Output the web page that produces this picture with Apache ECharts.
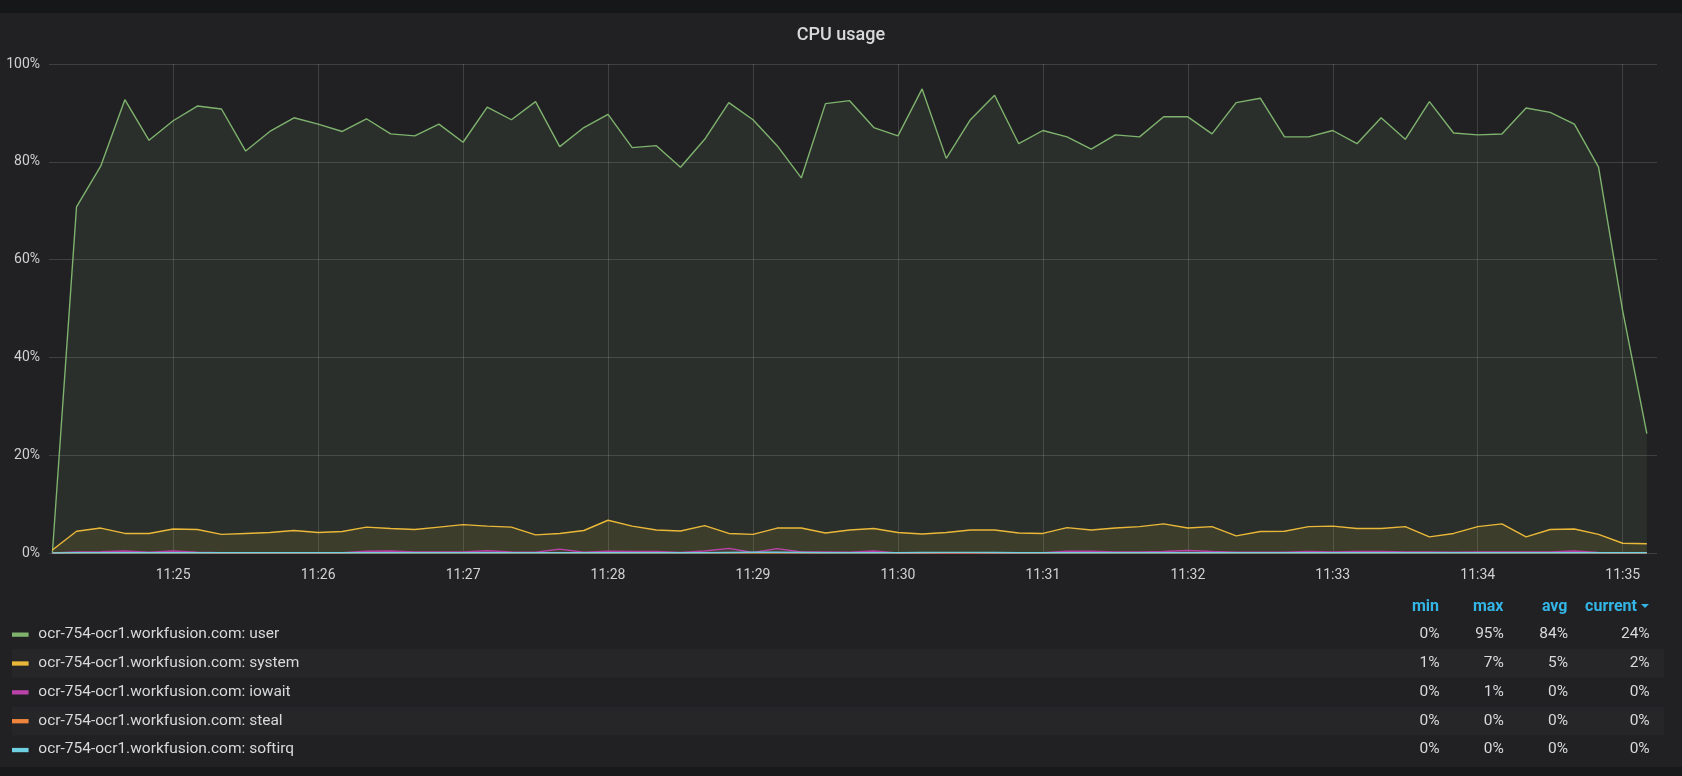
<!DOCTYPE html>
<html><head><meta charset="utf-8">
<script src="https://cdn.jsdelivr.net/npm/echarts@6/dist/echarts.min.js"></script>
<style>html,body{margin:0;padding:0;background:#212124;overflow:hidden;} #c{width:1682px;height:776px;}</style>
</head><body><div id="c"></div><script>
const times = [
 '11:24:10','11:24:20','11:24:30','11:24:40','11:24:50',
 '11:25:00','11:25:10','11:25:20','11:25:30','11:25:40','11:25:50',
 '11:26:00','11:26:10','11:26:20','11:26:30','11:26:40','11:26:50',
 '11:27:00','11:27:10','11:27:20','11:27:30','11:27:40','11:27:50',
 '11:28:00','11:28:10','11:28:20','11:28:30','11:28:40','11:28:50',
 '11:29:00','11:29:10','11:29:20','11:29:30','11:29:40','11:29:50',
 '11:30:00','11:30:10','11:30:20','11:30:30','11:30:40','11:30:50',
 '11:31:00','11:31:10','11:31:20','11:31:30','11:31:40','11:31:50',
 '11:32:00','11:32:10','11:32:20','11:32:30','11:32:40','11:32:50',
 '11:33:00','11:33:10','11:33:20','11:33:30','11:33:40','11:33:50',
 '11:34:00','11:34:10','11:34:20','11:34:30','11:34:40','11:34:50',
 '11:35:00','11:35:10'
];
const tickLabels = ['11:25','11:26','11:27','11:28','11:29','11:30','11:31','11:32','11:33','11:34','11:35'];
const seriesNames = [
 'ocr-754-ocr1.workfusion.com: user',
 'ocr-754-ocr1.workfusion.com: system',
 'ocr-754-ocr1.workfusion.com: iowait',
 'ocr-754-ocr1.workfusion.com: steal',
 'ocr-754-ocr1.workfusion.com: softirq'
];
const seriesColors = ['#7EB26D','#EAB839','#BA43A9','#EF843C','#6ED0E0'];
const statHeaders = ['min','max','avg','current'];

const userValues = [
 0, 70.8, 79.1, 92.7, 84.4,
 88.4, 91.4, 90.8, 82.2, 86.2, 89.0,
 87.7, 86.2, 88.8, 85.7, 85.3, 87.7,
 84.0, 91.2, 88.6, 92.3, 83.1, 87.0,
 89.7, 82.9, 83.3, 78.9, 84.6, 92.1,
 88.6, 83.3, 76.7, 91.9, 92.5, 87.0,
 85.3, 94.9, 80.7, 88.6, 93.6, 83.7,
 86.4, 85.1, 82.6, 85.5, 85.1, 89.2,
 89.2, 85.7, 92.1, 93.0, 85.1, 85.1,
 86.4, 83.7, 89.0, 84.6, 92.3, 85.9,
 85.5, 85.7, 91.0, 90.1, 87.7, 78.9,
 49.5, 24.4
];
const systemValues = [
 0.6, 4.45, 5.1, 4.0, 4.0,
 4.9, 4.8, 3.8, 4.0, 4.2, 4.6,
 4.2, 4.4, 5.3, 5.0, 4.8, 5.3,
 5.8, 5.5, 5.3, 3.7, 4.0, 4.6,
 6.7, 5.5, 4.7, 4.5, 5.6, 4.0,
 3.8, 5.1, 5.1, 4.1, 4.7, 5.0,
 4.2, 3.9, 4.2, 4.7, 4.7, 4.1,
 4.0, 5.2, 4.7, 5.1, 5.4, 5.95,
 5.1, 5.4, 3.5, 4.4, 4.45, 5.4,
 5.5, 5.0, 5.0, 5.4, 3.3, 4.0,
 5.4, 5.95, 3.3, 4.8, 4.9, 3.8,
 2.0, 1.9
];
const iowaitValues = [
 0, 0.2, 0.25, 0.4, 0.15,
 0.4, 0.15, 0.05, 0.05, 0.05, 0.05,
 0.05, 0.05, 0.35, 0.4, 0.2, 0.2,
 0.2, 0.45, 0.2, 0.15, 0.8, 0.15,
 0.35, 0.3, 0.3, 0.1, 0.4, 0.95,
 0.1, 0.9, 0.2, 0.2, 0.15, 0.4,
 0, 0, 0, 0, 0, 0.05,
 0.05, 0.35, 0.35, 0.2, 0.2, 0.3,
 0.5, 0.3, 0.15, 0.15, 0.15, 0.3,
 0.2, 0.3, 0.3, 0.2, 0.2, 0.15,
 0.2, 0.2, 0.2, 0.2, 0.4, 0.1,
 0.05, 0.05
];
const stealValues = [
 0, 0, 0, 0, 0,
 0, 0, 0, 0, 0, 0,
 0, 0, 0, 0, 0, 0,
 0, 0, 0, 0, 0, 0,
 0, 0, 0, 0, 0, 0,
 0, 0, 0, 0, 0, 0,
 0, 0, 0, 0, 0, 0,
 0, 0, 0, 0, 0, 0,
 0, 0, 0, 0, 0, 0,
 0, 0, 0, 0, 0, 0,
 0, 0, 0, 0, 0, 0,
 0, 0
];
const softirqValues = [
 0, 0.05, 0.05, 0.05, 0.05,
 0.05, 0.05, 0.05, 0.05, 0.05, 0.05,
 0.05, 0.05, 0.05, 0.05, 0.05, 0.05,
 0.05, 0.05, 0.05, 0.05, 0.05, 0.05,
 0.05, 0.05, 0.05, 0.05, 0.05, 0.1,
 0.15, 0.15, 0.1, 0.05, 0.05, 0.05,
 0.05, 0.1, 0.12, 0.12, 0.1, 0.05,
 0.05, 0.05, 0.05, 0.05, 0.05, 0.05,
 0.05, 0.05, 0.05, 0.05, 0.05, 0.05,
 0.05, 0.05, 0.05, 0.05, 0.05, 0.05,
 0.05, 0.05, 0.05, 0.05, 0.05, 0.05,
 0.05, 0.05
];
const allValues = [userValues, systemValues, iowaitValues, stealValues, softirqValues];

function toSec(t){ const p = t.split(':').map(Number); return p[0]*3600 + p[1]*60 + (p[2]||0); }
function fmtMin(v){ const h = Math.floor(v/3600), m = Math.round((v%3600)/60); return h + ':' + String(m).padStart(2,'0'); }
const xs = times.map(toSec);
const tickSecs = tickLabels.map(toSec);

const FONT = 'Roboto, "Noto Sans", sans-serif';
const TEXT = '#d8d9da';
const GRIDC = 'rgba(255,255,255,0.14)';

const series = allValues.map((vals, i) => ({
  name: seriesNames[i],
  type: 'line',
  data: vals.map((v, j) => [xs[j], v]),
  showSymbol: false,
  symbol: 'none',
  color: seriesColors[i],
  lineStyle: { width: 1.4, color: seriesColors[i] },
  areaStyle: { color: seriesColors[i], opacity: 0.1 },
  silent: true,
  z: 2 + i
}));

function stats(vals){
  const mn = Math.min(...vals), mx = Math.max(...vals);
  const avg = vals.reduce((a,b)=>a+b,0)/vals.length;
  const cur = vals[vals.length-1];
  return [mn, mx, avg, cur].map(v => Math.round(v) + '%');
}
const graphics = [];
graphics.push({ type:'rect', shape:{x:0,y:0,width:1682,height:13}, style:{fill:'#161719'}, z:-10 });
graphics.push({ type:'rect', shape:{x:0,y:767,width:1682,height:9}, style:{fill:'#18191b'}, z:-10 });
const colRight = [1439.6, 1503.9, 1568, 1649.7];
const headRight = [1439, 1503.5, 1567.5, 1637];
statHeaders.forEach((h, k) => {
  graphics.push({ type:'text', x: headRight[k], y: 606.5,
    style:{ text:h, fill:'#33b5e5', font:'bold 16px ' + FONT, textAlign:'right', textVerticalAlign:'middle' } });
});
graphics.push({ type:'polygon', shape:{ points:[[1641,604],[1649,604],[1645,608]] }, style:{ fill:'#33b5e5' } });
seriesNames.forEach((name, i) => {
  const rowY = 634.5 + 28.85*i;
  if (i % 2 === 1) {
    graphics.push({ type:'rect', shape:{x:12, y:rowY-14.4, width:1652, height:28.8}, style:{fill:'#262629'}, z:-5 });
  }
  graphics.push({ type:'rect', shape:{x:12, y:rowY-2, width:16.6, height:4.3}, style:{fill:seriesColors[i]} });
  graphics.push({ type:'text', x:38.3, y:rowY-0.3,
    style:{ text:name, fill:TEXT, font:'15.5px ' + FONT, textVerticalAlign:'middle' } });
  stats(allValues[i]).forEach((s, k) => {
    graphics.push({ type:'text', x:colRight[k], y:rowY-0.3,
      style:{ text:s, fill:TEXT, font:'15.5px ' + FONT, textAlign:'right', textVerticalAlign:'middle' } });
  });
});

const chart = echarts.init(document.getElementById('c'), null, { renderer:'canvas' });
chart.setOption({
  backgroundColor: '#212124',
  animation: false,
  title: { text:'CPU usage', left:'center', top:21,
    textStyle:{ color:TEXT, fontSize:18, fontWeight:500, fontFamily:FONT } },
  grid: { left:49, right:25, top:64, bottom:223 },
  xAxis: {
    type:'value',
    min: xs[0] - 1.4,
    max: xs[xs.length-1] + 4.2,
    axisLine:{ show:false },
    axisTick:{ show:false, customValues: tickSecs },
    axisLabel:{ customValues: tickSecs, formatter: fmtMin, color:'#d0d0d2', fontSize:14, fontFamily:FONT, margin:15 },
    splitLine:{ show:true, lineStyle:{ color:GRIDC, width:1 } }
  },
  yAxis: {
    type:'value', min:0, max:100, interval:20,
    axisLine:{ show:false }, axisTick:{ show:false },
    axisLabel:{ formatter:'{value}%', color:'#d0d0d2', fontSize:14, fontFamily:FONT, margin:9 },
    splitLine:{ show:true, lineStyle:{ color:GRIDC, width:1 } }
  },
  series: series,
  graphic: graphics
});
</script></body></html>
